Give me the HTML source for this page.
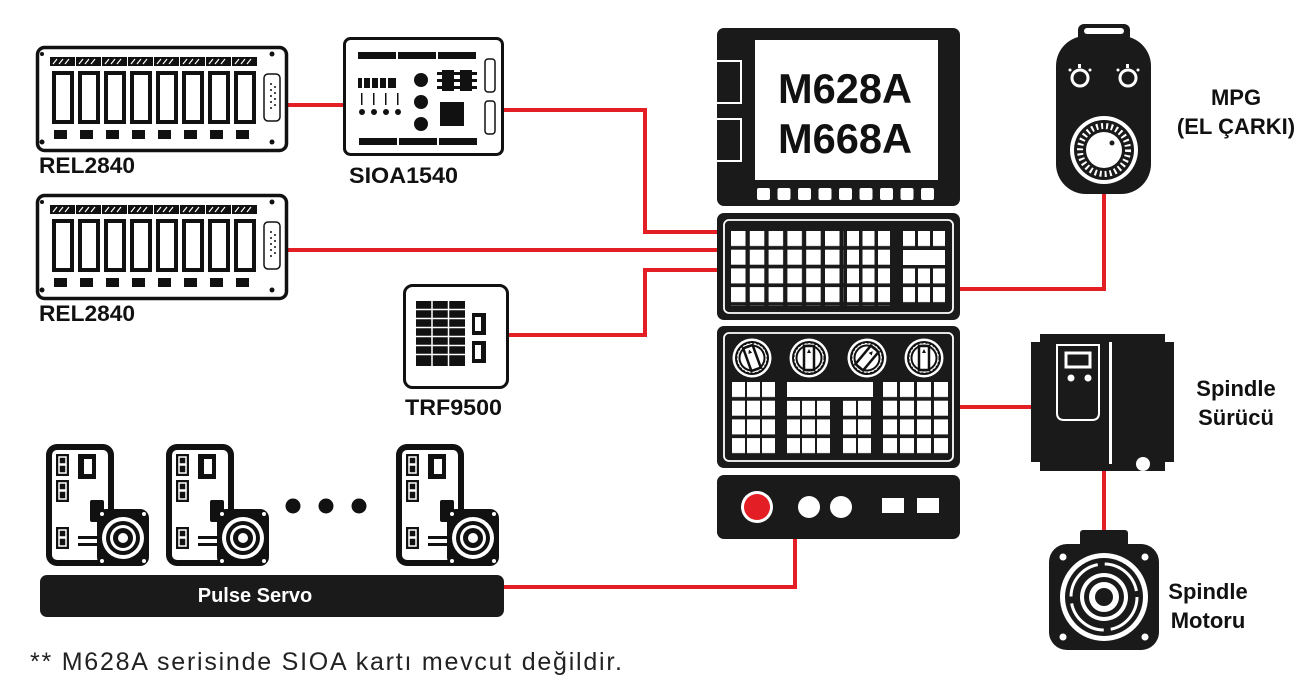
<!DOCTYPE html>
<html><head><meta charset="utf-8"><style>html,body{margin:0;padding:0;background:#fff}svg{display:block}</style></head>
<body>
<svg width="1306" height="690" viewBox="0 0 1306 690" xmlns="http://www.w3.org/2000/svg" font-family="Liberation Sans, sans-serif">
<defs>
<g id="rel">
 <rect x="1.5" y="1.5" width="249" height="103" rx="7" fill="#fff" stroke="#111" stroke-width="3.5"/>
 <circle cx="6" cy="8" r="2" fill="#111"/><circle cx="236" cy="8" r="2.5" fill="#111"/><circle cx="6" cy="96" r="2.5" fill="#111"/><circle cx="236" cy="96" r="2.5" fill="#111"/>
 <g fill="#111">
  <rect x="14" y="11" width="25" height="9"/><rect x="40" y="11" width="25" height="9"/><rect x="66" y="11" width="25" height="9"/><rect x="92" y="11" width="25" height="9"/><rect x="118" y="11" width="25" height="9"/><rect x="144" y="11" width="25" height="9"/><rect x="170" y="11" width="25" height="9"/><rect x="196" y="11" width="25" height="9"/>
  <rect x="18" y="84" width="13" height="9"/><rect x="44" y="84" width="13" height="9"/><rect x="70" y="84" width="13" height="9"/><rect x="96" y="84" width="13" height="9"/><rect x="122" y="84" width="13" height="9"/><rect x="148" y="84" width="13" height="9"/><rect x="174" y="84" width="13" height="9"/><rect x="200" y="84" width="13" height="9"/>
 </g>
 <g stroke="#fff" stroke-width="1.2"><path d="M17 18l4-5M23 18l4-5M29 18l4-5M43 18l4-5M49 18l4-5M55 18l4-5M69 18l4-5M75 18l4-5M81 18l4-5M95 18l4-5M101 18l4-5M107 18l4-5M121 18l4-5M127 18l4-5M133 18l4-5M147 18l4-5M153 18l4-5M159 18l4-5M173 18l4-5M179 18l4-5M185 18l4-5M199 18l4-5M205 18l4-5M211 18l4-5"/></g>
 <g fill="#fff" stroke="#111" stroke-width="4">
  <rect x="18" y="27" width="18" height="49"/><rect x="44" y="27" width="18" height="49"/><rect x="70" y="27" width="18" height="49"/><rect x="96" y="27" width="18" height="49"/><rect x="122" y="27" width="18" height="49"/><rect x="148" y="27" width="18" height="49"/><rect x="174" y="27" width="18" height="49"/><rect x="200" y="27" width="18" height="49"/>
 </g>
 <rect x="228" y="28" width="16" height="47" rx="4" fill="#fff" stroke="#111" stroke-width="1.5"/>
 <g fill="#111"><circle cx="235" cy="38" r="1"/><circle cx="235" cy="44" r="1"/><circle cx="235" cy="50" r="1"/><circle cx="235" cy="56" r="1"/><circle cx="235" cy="62" r="1"/><circle cx="239" cy="41" r="1"/><circle cx="239" cy="47" r="1"/><circle cx="239" cy="53" r="1"/><circle cx="239" cy="59" r="1"/></g>
</g>
<g id="servo">
 <rect x="0" y="0" width="68" height="122" rx="11" fill="#111"/>
 <rect x="6" y="6" width="56" height="110" rx="5" fill="#fff"/>
 <rect x="10" y="10" width="13" height="22" fill="#111"/><rect x="10" y="36" width="13" height="22" fill="#111"/><rect x="10" y="83" width="13" height="22" fill="#111"/>
 <rect x="13" y="13" width="7" height="7" fill="none" stroke="#fff" stroke-width="1.5"/><rect x="13" y="21" width="7" height="8" fill="none" stroke="#fff" stroke-width="1.5"/>
 <rect x="13" y="39" width="7" height="7" fill="none" stroke="#fff" stroke-width="1.5"/><rect x="13" y="47" width="7" height="8" fill="none" stroke="#fff" stroke-width="1.5"/>
 <rect x="13" y="86" width="7" height="7" fill="none" stroke="#fff" stroke-width="1.5"/><rect x="13" y="94" width="7" height="8" fill="none" stroke="#fff" stroke-width="1.5"/>
 <rect x="32" y="10" width="18" height="25" fill="#111"/><rect x="38" y="15" width="8" height="15" fill="#fff"/>
 <rect x="44" y="56" width="14" height="22" rx="2" fill="#111"/>
 <rect x="32" y="92" width="20" height="3" fill="#111"/><rect x="32" y="99" width="20" height="3" fill="#111"/>
 <rect x="51" y="65" width="52" height="57" rx="9" fill="#111"/>
 <circle cx="77" cy="94" r="21" fill="#fff"/><circle cx="77" cy="94" r="17" fill="#111"/><circle cx="77" cy="94" r="13" fill="#fff"/><circle cx="77" cy="94" r="10" fill="#111"/><circle cx="77" cy="94" r="5" fill="#fff"/>
 <circle cx="56" cy="70" r="2" fill="#fff"/><circle cx="98" cy="70" r="2" fill="#fff"/><circle cx="56" cy="117" r="2" fill="#fff"/><circle cx="98" cy="117" r="2" fill="#fff"/>
</g>
<pattern id="kA" patternUnits="userSpaceOnUse" x="731" y="231" width="18.8" height="18.7"><rect width="14.5" height="15" fill="#fff"/></pattern>
<pattern id="kB" patternUnits="userSpaceOnUse" x="847" y="231" width="15.5" height="18.7"><rect width="12" height="15" fill="#fff"/></pattern>
<pattern id="kC" patternUnits="userSpaceOnUse" x="903" y="231" width="15" height="18.7"><rect width="12" height="15" fill="#fff"/></pattern>
<pattern id="pA" patternUnits="userSpaceOnUse" x="732" y="382" width="15" height="18.7"><rect width="13" height="15" fill="#fff"/></pattern>
<pattern id="pB" patternUnits="userSpaceOnUse" x="787" y="382" width="15" height="18.7"><rect width="13" height="15" fill="#fff"/></pattern>
<pattern id="pC" patternUnits="userSpaceOnUse" x="843" y="382" width="15" height="18.7"><rect width="13" height="15" fill="#fff"/></pattern>
<pattern id="pD" patternUnits="userSpaceOnUse" x="883" y="382" width="17" height="18.7"><rect width="14" height="15" fill="#fff"/></pattern>
<g id="knob">
 <circle r="19.5" fill="#fff"/><circle r="17" fill="#111"/><circle r="15" fill="#fff" stroke="#111" stroke-width="1" stroke-dasharray="2 2"/><circle r="12.5" fill="#fff" stroke="#111" stroke-width="2"/>
 <rect x="-5" y="-12" width="10" height="24" fill="none" stroke="#111" stroke-width="2.5"/><path d="M0 -9 l-2 4 h4z" fill="#111"/>
</g>
</defs>

<g stroke="#e31e24" stroke-width="4" fill="none">
 <path d="M288 105 H343"/>
 <path d="M503 110 H645 V232 H718"/>
 <path d="M288 250 H718"/>
 <path d="M508 335 H645 V270 H718"/>
 <path d="M960 289 H1104 V190"/>
 <path d="M960 407 H1032"/>
 <path d="M1104 470 V532"/>
 <path d="M795 537 V587 H503"/>
</g>

<use href="#rel" x="36" y="46"/>
<use href="#rel" x="36" y="194"/>
<g font-weight="bold" font-size="22" fill="#111">
 <text x="39" y="173" textLength="96" lengthAdjust="spacingAndGlyphs">REL2840</text>
 <text x="39" y="321" textLength="96" lengthAdjust="spacingAndGlyphs">REL2840</text>
 <text x="349" y="183" textLength="109" lengthAdjust="spacingAndGlyphs">SIOA1540</text>
 <text x="405" y="415" textLength="97" lengthAdjust="spacingAndGlyphs">TRF9500</text>
</g>

<rect x="344.5" y="38.5" width="158" height="116" rx="6" fill="#fff" stroke="#111" stroke-width="3"/>
<g fill="#111">
 <rect x="358" y="52" width="38" height="7"/><rect x="398" y="52" width="38" height="7"/><rect x="438" y="52" width="38" height="7"/>
 <rect x="359" y="138" width="38" height="7"/><rect x="399" y="138" width="38" height="7"/><rect x="439" y="138" width="38" height="7"/>
 <circle cx="421" cy="80" r="7"/><circle cx="421" cy="102" r="7"/><circle cx="421" cy="124" r="7"/>
 <rect x="440" y="102" width="24" height="24"/>
 <rect x="358" y="78" width="38" height="10"/>
 <circle cx="362" cy="112" r="3"/><circle cx="374" cy="112" r="3"/><circle cx="386" cy="112" r="3"/><circle cx="398" cy="112" r="3"/>
 <rect x="361" y="93" width="1.5" height="12"/><rect x="373" y="93" width="1.5" height="12"/><rect x="385" y="93" width="1.5" height="12"/><rect x="397" y="93" width="1.5" height="12"/>
 <rect x="437" y="72" width="40" height="3"/><rect x="437" y="79" width="40" height="3"/><rect x="437" y="86" width="40" height="3"/>
 <rect x="442" y="70" width="12" height="21"/><rect x="460" y="70" width="12" height="21"/>
</g>
<g fill="#fff"><rect x="362" y="78" width="2" height="10"/><rect x="370" y="78" width="2" height="10"/><rect x="378" y="78" width="2" height="10"/><rect x="386" y="78" width="2" height="10"/></g>
<rect x="485" y="59" width="10" height="33" rx="3" fill="#fff" stroke="#111" stroke-width="1.5"/>
<rect x="485" y="101" width="10" height="33" rx="3" fill="#fff" stroke="#111" stroke-width="1.5"/>

<rect x="404.5" y="285.5" width="103" height="102" rx="8" fill="#fff" stroke="#111" stroke-width="3"/>
<g fill="#111">
 <rect x="416" y="301" width="49" height="65"/>
 <rect x="472" y="313" width="14" height="22"/><rect x="472" y="341" width="14" height="22"/>
</g>
<g stroke="#fff" stroke-width="1.5"><path d="M416 309.5h49M416 318.5h49M416 327.5h49M416 336.5h49M416 345.5h49M416 354.5h49M432 301v65M448.5 301v65"/></g>
<rect x="475" y="317" width="6" height="14" fill="#fff"/><rect x="475" y="345" width="6" height="14" fill="#fff"/>

<use href="#servo" x="46" y="444"/>
<use href="#servo" x="166" y="444"/>
<use href="#servo" x="396" y="444"/>
<circle cx="293" cy="506" r="7.5" fill="#111"/><circle cx="326" cy="506" r="7.5" fill="#111"/><circle cx="359" cy="506" r="7.5" fill="#111"/>
<rect x="40" y="575" width="464" height="42" rx="7" fill="#1a1a1a"/>
<text x="255" y="602" font-size="20" font-weight="bold" fill="#fff" text-anchor="middle">Pulse Servo</text>

<rect x="717" y="28" width="243" height="178" rx="7" fill="#1a1a1a"/>
<rect x="755" y="40" width="183" height="140" fill="#fff"/>
<rect x="716" y="61" width="25" height="42" fill="#1a1a1a" stroke="#fff" stroke-width="2"/>
<rect x="716" y="119" width="25" height="42" fill="#1a1a1a" stroke="#fff" stroke-width="2"/>
<g fill="#fff">
 <rect x="757" y="188" width="13" height="12" rx="2"/><rect x="777.5" y="188" width="13" height="12" rx="2"/><rect x="798" y="188" width="13" height="12" rx="2"/><rect x="818.5" y="188" width="13" height="12" rx="2"/><rect x="839" y="188" width="13" height="12" rx="2"/><rect x="859.5" y="188" width="13" height="12" rx="2"/><rect x="880" y="188" width="13" height="12" rx="2"/><rect x="900.5" y="188" width="13" height="12" rx="2"/><rect x="921" y="188" width="13" height="12" rx="2"/>
</g>
<g font-size="42" font-weight="bold" fill="#111" text-anchor="middle">
 <text x="845" y="103" textLength="134" lengthAdjust="spacingAndGlyphs">M628A</text>
 <text x="845" y="153" textLength="134" lengthAdjust="spacingAndGlyphs">M668A</text>
</g>

<rect x="717" y="213" width="243" height="107" rx="7" fill="#1a1a1a"/>
<rect x="724" y="220" width="229" height="93" rx="5" fill="none" stroke="#fff" stroke-width="1.8"/>
<rect x="731" y="231" width="113" height="75" fill="url(#kA)"/>
<rect x="847" y="231" width="46" height="75" fill="url(#kB)"/>
<rect x="903" y="231" width="45" height="18" fill="url(#kC)"/>
<rect x="903" y="250" width="42" height="15" fill="#fff"/>
<rect x="903" y="268.4" width="45" height="37" fill="url(#kC)"/>

<rect x="717" y="326" width="243" height="142" rx="7" fill="#1a1a1a"/>
<rect x="724" y="333" width="229" height="128" rx="5" fill="none" stroke="#fff" stroke-width="1.8"/>
<use href="#knob" x="752" y="358" transform="rotate(-20 752 358)"/>
<use href="#knob" x="809" y="358"/>
<use href="#knob" x="867" y="358" transform="rotate(40 867 358)"/>
<use href="#knob" x="924" y="358"/>
<rect x="732" y="382" width="45" height="72" fill="url(#pA)"/>
<rect x="787" y="382" width="86" height="15" fill="#fff"/>
<rect x="787" y="400.7" width="45" height="53" fill="url(#pB)"/>
<rect x="843" y="400.7" width="30" height="53" fill="url(#pC)"/>
<rect x="883" y="382" width="66" height="72" fill="url(#pD)"/>

<rect x="717" y="475" width="243" height="64" rx="7" fill="#1a1a1a"/>
<circle cx="757" cy="507" r="16" fill="#fff"/><circle cx="757" cy="507" r="13" fill="#e31e24"/>
<circle cx="809" cy="507" r="11" fill="#fff"/><circle cx="841" cy="507" r="11" fill="#fff"/>
<rect x="882" y="498" width="22" height="15" fill="#fff"/><rect x="917" y="498" width="22" height="15" fill="#fff"/>

<rect x="1078" y="24" width="52" height="18" rx="6" fill="#1a1a1a"/>
<rect x="1084" y="28" width="40" height="6" rx="3" fill="#fff"/>
<rect x="1056" y="36" width="95" height="158" rx="30" fill="#1a1a1a"/>
<circle cx="1080" cy="78" r="8" fill="none" stroke="#fff" stroke-width="3"/>
<circle cx="1128" cy="78" r="8" fill="none" stroke="#fff" stroke-width="3"/>
<g fill="#fff"><rect x="1078" y="64" width="3" height="4"/><rect x="1126" y="64" width="3" height="4"/><circle cx="1070" cy="70" r="1.5"/><circle cx="1090" cy="70" r="1.5"/><circle cx="1118" cy="70" r="1.5"/><circle cx="1138" cy="70" r="1.5"/></g>
<circle cx="1104" cy="150" r="34" fill="#fff"/>
<circle cx="1104" cy="150" r="30" fill="#1a1a1a"/>
<circle cx="1104" cy="150" r="24" fill="none" stroke="#fff" stroke-width="6" stroke-dasharray="2 3"/>
<circle cx="1104" cy="150" r="18" fill="#fff"/>
<circle cx="1112" cy="143" r="2.5" fill="#1a1a1a"/>
<g font-size="22" font-weight="bold" fill="#111" text-anchor="middle">
 <text x="1236" y="105">MPG</text>
 <text x="1236" y="134">(EL ÇARKI)</text>
 <text x="1236" y="396">Spindle</text>
 <text x="1236" y="425">Sürücü</text>
 <text x="1208" y="599">Spindle</text>
 <text x="1208" y="628">Motoru</text>
</g>

<path d="M1040 334 H1165 V342 H1174 V462 H1165 V471 H1040 V462 H1031 V342 H1040 Z" fill="#1a1a1a"/>
<path d="M1057 345 H1099 V413 Q1099 420 1092 420 H1064 Q1057 420 1057 413 Z" fill="none" stroke="#fff" stroke-width="2"/>
<rect x="1066" y="353" width="24" height="14" fill="none" stroke="#fff" stroke-width="3"/>
<circle cx="1071" cy="378" r="3.5" fill="#fff"/><circle cx="1088" cy="378" r="3.5" fill="#fff"/>
<rect x="1109" y="342" width="3" height="122" fill="#fff"/>
<circle cx="1143" cy="464" r="7" fill="#fff"/>

<rect x="1080" y="530" width="48" height="18" rx="3" fill="#1a1a1a"/>
<rect x="1049" y="544" width="110" height="106" rx="18" fill="#1a1a1a"/>
<circle cx="1104" cy="597" r="44" fill="#fff"/>
<circle cx="1104" cy="597" r="39" fill="#1a1a1a"/>
<circle cx="1104" cy="597" r="33" fill="none" stroke="#fff" stroke-width="3" stroke-dasharray="45 7"/>
<circle cx="1104" cy="597" r="24" fill="#fff"/>
<circle cx="1104" cy="597" r="20" fill="#1a1a1a"/>
<circle cx="1104" cy="597" r="15" fill="#fff"/>
<circle cx="1104" cy="597" r="9" fill="#1a1a1a"/>
<g fill="#fff"><circle cx="1063" cy="557" r="3.5"/><circle cx="1145" cy="557" r="3.5"/><circle cx="1063" cy="637" r="3.5"/><circle cx="1145" cy="637" r="3.5"/></g>

<text x="30" y="670" font-size="25" fill="#222" textLength="592" lengthAdjust="spacing">** M628A serisinde SIOA kartı mevcut değildir.</text>
</svg>
</body></html>
